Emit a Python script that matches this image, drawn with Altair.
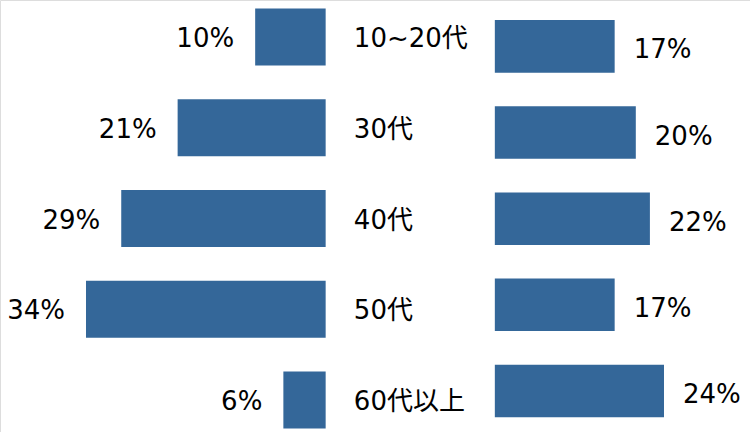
import altair as alt
import pandas as pd

categories = ["10~20代", "30代", "40代", "50代", "60代以上"]
left_values = [10, 21, 29, 34, 6]
right_values = [17, 20, 22, 17, 24]

GAP = 24  # offset (in % units) where right-hand bars start
FONT = "DejaVu Sans, Verdana, Noto Sans CJK JP"
COLOR = "#346799"
FS = 26

df = pd.DataFrame({"cat": categories, "left": left_values, "right": right_values})

xscale = alt.Scale(domain=[-46.2, 60.2], nice=False, zero=False)
yl = alt.Scale(domain=categories, range=[-8.375, 445.375], paddingInner=0.372, paddingOuter=0.186)
yr = alt.Scale(domain=categories, range=[3.3, 434.05], paddingInner=0.39, paddingOuter=0.195)

base = alt.Chart(df).transform_calculate(
    neg="-datum.left",
    rend=f"{GAP} + datum.right",
    ltxt="datum.left + '%'",
    rtxt="datum.right + '%'",
    pos="4",
)

left_bars = base.mark_bar(color=COLOR).encode(
    x=alt.X("neg:Q", scale=xscale, axis=None),
    x2=alt.datum(0),
    y=alt.Y("cat:N", scale=yl, axis=None, sort=categories),
)
left_text = base.mark_text(align="right", baseline="middle", dx=-21, dy=2,
                           font=FONT, fontSize=FS, color="#000000").encode(
    x=alt.X("neg:Q", scale=xscale, axis=None),
    y=alt.Y("cat:N", scale=yl, axis=None, sort=categories),
    text="ltxt:N",
)
cat_text = base.mark_text(align="left", baseline="middle", dy=2,
                          font=FONT, fontSize=FS, color="#000000").encode(
    x=alt.X("pos:Q", scale=xscale, axis=None),
    y=alt.Y("cat:N", scale=yl, axis=None, sort=categories),
    text="cat:N",
)
left_layer = alt.layer(left_bars, left_text, cat_text)

right_bars = base.mark_bar(color=COLOR).encode(
    x=alt.X("rend:Q", scale=xscale, axis=None),
    x2=alt.datum(GAP),
    y=alt.Y("cat:N", scale=yr, axis=None, sort=categories),
)
right_text = base.mark_text(align="left", baseline="middle", dx=19, dy=4,
                            font=FONT, fontSize=FS, color="#000000").encode(
    x=alt.X("rend:Q", scale=xscale, axis=None),
    y=alt.Y("cat:N", scale=yr, axis=None, sort=categories),
    text="rtxt:N",
)
right_layer = alt.layer(right_bars, right_text)

chart = alt.layer(left_layer, right_layer).resolve_scale(y="independent").properties(
    width=750, height=432, autosize=alt.AutoSizeParams(type="none"), padding=0,
).configure_view(stroke=None).configure(background="white")

chart.save("out.html", embed_options={"renderer": "svg", "actions": False})
